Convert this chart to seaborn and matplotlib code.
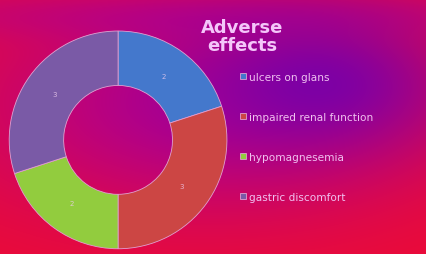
import numpy as np
import seaborn as sns
import matplotlib.pyplot as plt

effects = ["ulcers on glans", "impaired renal function", "hypomagnesemia", "gastric discomfort"]
counts = [2, 3, 2, 3]
wedge_colors = ["#4478cc", "#cc4644", "#92cc3e", "#7a5aa6"]

sns.set_theme(style="white")
plt.rcParams['font.family'] = ['DejaVu Sans']

fig = plt.figure(figsize=(4.27, 2.55), dpi=100)

# background: red slide, magenta glow, purple spot to the upper right
bg = fig.add_axes([0, 0, 1, 1])
xx, yy = np.meshgrid(np.arange(427) + 0.5, np.arange(255) + 0.5)
red = np.array([238, 12, 52]) / 255
magenta = np.array([178, 0, 140]) / 255
purple = np.array([118, 0, 170]) / 255
m = np.exp(-(((xx - 200) / 240) ** 2 + ((yy - 105) / 115) ** 2))
m = np.clip(m + 0.35 * np.exp(-((yy - 15) / 25) ** 2), 0, 1)
p = 0.9 * np.exp(-(((xx - 320) / 130) ** 2 + ((yy - 85) / 70) ** 2))
img = red * (1 - m[..., None]) + magenta * m[..., None]
img = img * (1 - p[..., None]) + purple * p[..., None]
bg.imshow(np.clip(img, 0, 1), aspect="auto", extent=[0, 427, 255, 0])
bg.set_axis_off()

ax = fig.add_axes([0.019, 0.016, 0.515, 0.863])
wedges, texts = ax.pie(counts, colors=wedge_colors, startangle=90, counterclock=False,
                       radius=1.0, wedgeprops=dict(width=0.5, edgecolor="#e0a0d0", linewidth=0.6))
for w, n in zip(wedges, counts):
    ang = np.deg2rad((w.theta1 + w.theta2) / 2)
    ax.text(0.72 * np.cos(ang), 0.72 * np.sin(ang), str(n), ha="center", va="center",
            fontsize=5, color="#f0d0f0", alpha=0.8)
ax.set_xlim(-1.01, 1.01)
ax.set_ylim(-1.01, 1.01)
ax.set_aspect("equal")
ax.set_axis_off()

fig.text(0.567, 0.855, "Adverse\neffects", fontsize=13, fontweight="bold", color="#f4c6fa",
         ha="center", va="center", linespacing=1.05)

leg = fig.legend(wedges, effects, loc="upper left", bbox_to_anchor=(0.553, 0.732), frameon=False,
                 fontsize=7.6, labelspacing=2.85, handlelength=0.5, handleheight=0.5,
                 handletextpad=0.3, borderaxespad=0)
for t in leg.get_texts():
    t.set_color("#f0c0f0")

fig.savefig("out.png", dpi=100)
